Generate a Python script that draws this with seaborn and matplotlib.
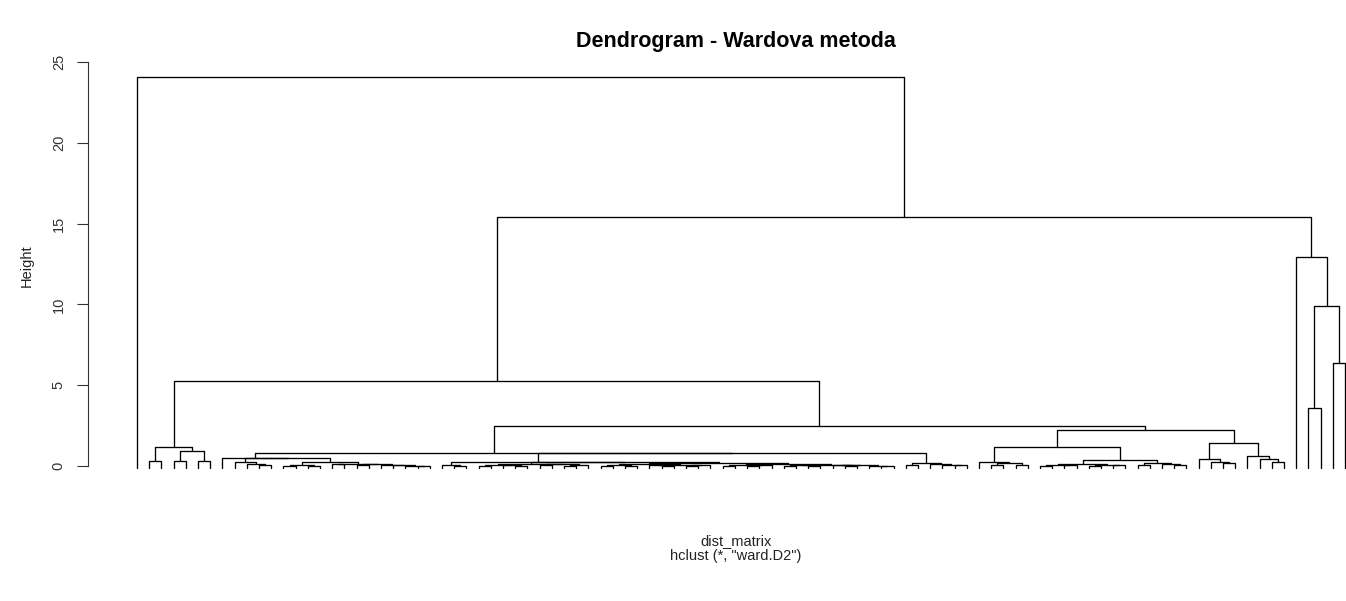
import numpy as np
import pandas as pd
import matplotlib
matplotlib.use("Agg")
import matplotlib.pyplot as plt
import seaborn as sns

o = None  # a leaf

# merge heights, nested as [height, left, right]
cluster_a = [1.17, [0.33, o, o], [0.93, [0.33, o, o], [0.33, o, o]]]
u_part = [0.23, o, [0.10, o, [0.05, o, o]]]
v1_part = [0.05, [0.03, o, o], [0.03, o, o]]
v2_part = [0.15, [0.10, o, o], [0.10, [0.05, o, o], [0.08, o, [0.05, o, [0.03, o, [0.02, o, o]]]]]]
s255 = [0.52, o, [0.50, u_part, [0.23, v1_part, v2_part]]]
a452 = [0.06, o, [0.03, o, o]]
b1 = [0.12, [0.08, [0.03, o, o], [0.05, o, [0.02, o, o]]], [0.10, [0.04, o, o], [0.06, [0.03, o, o], o]]]
b21 = [0.10, [0.05, [0.02, o, o], [0.03, o, o]], [0.07, [0.04, o, [0.02, o, o]], [0.05, [0.03, o, o], o]]]
b22 = [0.12, [0.06, [0.03, o, o], [0.04, [0.02, o, o], o]],
       [0.09, [0.05, [0.02, o, o], [0.03, o, o]], [0.06, [0.04, o, [0.02, o, o]], [0.03, o, [0.01, o, o]]]]]
s537 = [0.23, a452, [0.22, b1, [0.16, b21, b22]]]
s927 = [0.20, [0.06, o, o], [0.12, o, [0.08, o, [0.04, o, o]]]]
n8 = [0.83, s255, [0.79, s537, s927]]
l10 = [0.27, o, [0.18, [0.06, o, o], [0.05, o, o]]]
r10l = [0.10, [0.06, [0.03, o, o], [0.04, o, o]], [0.08, [0.02, o, o], [0.05, o, o]]]
r10r = [0.16, [0.05, o, o], [0.10, o, [0.04, o, o]]]
n10 = [1.16, l10, [0.37, r10l, r10r]]
n11 = [1.44, [0.41, o, [0.27, o, [0.17, o, o]]], [0.62, o, [0.41, o, [0.23, o, o]]]]
n7 = [2.48, n8, [2.23, n10, n11]]
n2 = [5.26, cluster_a, n7]
n3 = [12.93, o, [9.90, [3.59, o, o], [6.37, o, o]]]
root = [24.05, o, [15.41, n2, n3]]

y_ticks = [0, 5, 10, 15, 20, 25]
title = "Dendrogram - Wardova metoda"
x_label = "dist_matrix"
sub_label = 'hclust (*, "ward.D2")'
leaf_drop = -0.1

rows = []
counter = [0]


def layout(node):
    if node is None:
        x = counter[0]
        counter[0] += 1
        return x, leaf_drop
    h, left, right = node
    xl, hl = layout(left)
    xr, hr = layout(right)
    nid = len(rows)
    for k, (xx, yy) in enumerate([(xl, hl), (xl, h), (xr, h), (xr, hr)]):
        rows.append({"x": xx, "y": yy, "node": nid, "k": k})
    return (xl + xr) / 2, h


layout(root)
df = pd.DataFrame(rows)
n_leaves = counter[0]

sns.set_style("white")
plt.rcParams["font.family"] = ["Liberation Sans", "DejaVu Sans"]

W, H = 1346, 601
fig = plt.figure(figsize=(W / 100, H / 100), dpi=100)
ax_l, ax_r, ax_t, ax_b = 88, 1346, 45, 480
ax = fig.add_axes([ax_l / W, 1 - ax_b / H, (ax_r - ax_l) / W, (ax_b - ax_t) / H])

sns.lineplot(data=df, x="x", y="y", units="node", estimator=None, sort=False,
             color="black", linewidth=0.95, ax=ax, legend=False)

px_per_leaf = (1345 - 137) / (n_leaves - 1)
ax.set_xlim(-(137 - ax_l) / px_per_leaf, (n_leaves - 1) + (ax_r - 1345) / px_per_leaf)
px_per_unit = (466 - 62) / 25
ax.set_ylim(-(ax_b - 466) / px_per_unit, 25 + (62 - ax_t) / px_per_unit)

for s in ["top", "right", "bottom"]:
    ax.spines[s].set_visible(False)
ax.spines["left"].set_bounds(0, 25)
ax.spines["left"].set_linewidth(0.8)
ax.spines["left"].set_color("#333333")
ax.set_xticks([])
ax.set_yticks(y_ticks)
ax.set_yticklabels([str(t) for t in y_ticks], rotation=90, va="center", fontsize=10.5, color="#222222")
ax.tick_params(axis="y", direction="out", length=8, width=0.8, pad=8, left=True, colors="#333333")
ax.set_xlabel("")
ax.set_ylabel("")

fig.text(27 / W, 1 - 266 / H, "Height", rotation=90, ha="center", va="center", fontsize=10.5, color="#222222")
fig.text(736 / W, 1 - 42 / H, title, ha="center", va="center", fontsize=15.5, fontweight="bold", color="black")
fig.text(736 / W, 1 - 541 / H, x_label, ha="center", va="center", fontsize=10.5, color="#222222")
fig.text(736 / W, 1 - 556 / H, sub_label, ha="center", va="center", fontsize=10.5, color="#222222")

fig.savefig("out.png", dpi=100, facecolor="white")
